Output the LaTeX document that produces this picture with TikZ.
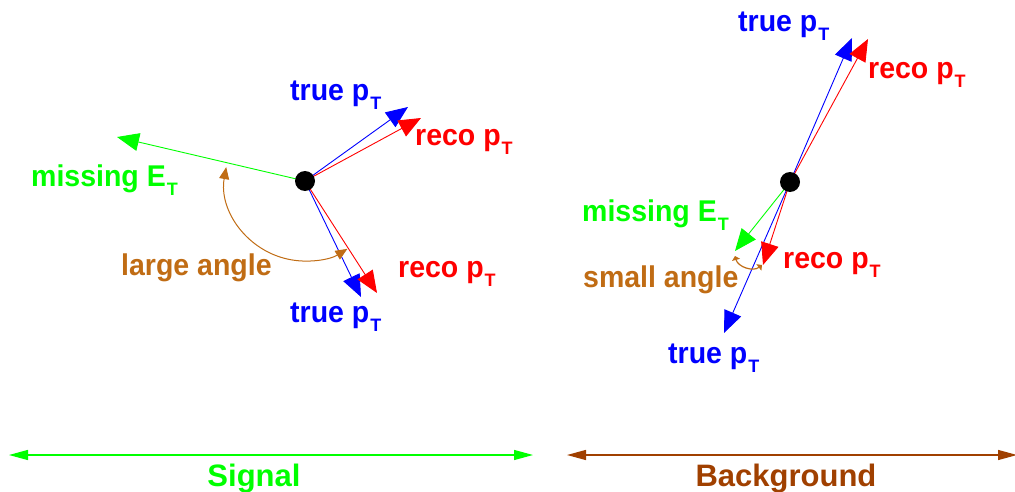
\documentclass[tikz,border=0pt]{standalone}
\usepackage{fontspec}
\setmainfont{Liberation Sans}
\newfontface\labfont[FakeStretch=0.95]{Liberation Sans Bold}
\newfontface\subfnt{Liberation Sans Bold}
\newfontface\bigfnt{Liberation Sans Bold}
\usetikzlibrary{arrows.meta}
\definecolor{pgreen}{RGB}{0,255,0}
\definecolor{pblue}{RGB}{0,0,255}
\definecolor{pred}{RGB}{255,0,0}
\definecolor{angbrown}{RGB}{192,108,20}
\definecolor{bgbrown}{RGB}{160,64,0}
\newcommand{\myPT}{p\raisebox{-9pt}{\subfnt\fontsize{18}{18}\selectfont\kern1pt T}}
\newcommand{\myET}{E\raisebox{-9pt}{\subfnt\fontsize{18}{18}\selectfont\kern1pt T}}
\tikzset{
  lab/.style={anchor=base west, inner sep=0pt, font=\labfont\fontsize{30}{30}\selectfont},
  vec/.style={line width=0.9pt, -{Triangle[length=22pt,width=18pt]}},
  angarc/.style={line width=1pt, draw=angbrown, {Triangle[length=12pt,width=10pt]}-{Triangle[length=12pt,width=10pt]}},
  smallarc/.style={line width=1.2pt, draw=angbrown, {Triangle[length=4pt,width=8pt]}-{Triangle[length=4pt,width=8pt]}},
  dotnode/.style={circle, fill=black, minimum size=20pt, inner sep=0pt},
  rangearrow/.style={line width=1.2pt, {Triangle[length=19pt,width=10pt]}-{Triangle[length=19pt,width=10pt]}},
  bigtxt/.style={anchor=base, inner sep=0pt, font=\bigfnt\fontsize{31}{31}\selectfont}
}
\begin{document}
\begin{tikzpicture}[x=1pt,y=-1pt]
\useasboundingbox (0,0) rectangle (1015,492);
% ---------- Signal ----------
\coordinate (s0) at (305,181);
\coordinate (sTu) at (408,107);
\coordinate (sRu) at (421,118);
\coordinate (sTd) at (361,297);
\coordinate (sRd) at (377,293);
\coordinate (sM) at (117,137);
\draw[vec, pgreen] (s0) -- (sM);
\draw[vec, pblue] (s0) -- (sTu);
\draw[vec, pred] (s0) -- (sRu);
\draw[vec, pblue] (s0) -- (sTd);
\draw[vec, pred] (s0) -- (sRd);
\node[dotnode] (sdot) at (s0) {};
\draw[angarc] ([shift={(190:80)}]s0) arc[start angle=190, end angle=58, radius=80];
\node[lab, pblue] (sTuL) at (290,101) {true \myPT};
\node[lab, pred] (sRuL) at (415,146) {reco \myPT};
\node[lab, pgreen] (sML) at (31,186) {missing \myET};
\node[lab, angbrown] (sAL) at (121,275) {large angle};
\node[lab, pred] (sRdL) at (398,277) {reco \myPT};
\node[lab, pblue] (sTdL) at (290,322) {true \myPT};
% ---------- Background ----------
\coordinate (b0) at (790,182);
\coordinate (bTu) at (852,38);
\coordinate (bRu) at (868,39);
\coordinate (bM) at (735,251);
\coordinate (bRd) at (763,265);
\coordinate (bTd) at (724,333);
\coordinate (bA1) at (735,256);
\coordinate (bA2) at (762,265);
\draw[vec, pblue] (b0) -- (bTu);
\draw[vec, pred] (b0) -- (bRu);
\draw[vec, pblue] (b0) -- (bTd);
\draw[vec, pred] (b0) -- (bRd);
\draw[vec, pgreen] (b0) -- (bM);
\node[dotnode] (bdot) at (b0) {};
\draw[smallarc] (bA1) .. controls (738,267) and (753,272) .. (bA2);
\node[lab, pblue] (bTuL) at (738,32) {true \myPT};
\node[lab, pred] (bRuL) at (868,79) {reco \myPT};
\node[lab, pgreen] (bML) at (582,222) {missing \myET};
\node[lab, pred] (bRdL) at (783,268) {reco \myPT};
\node[lab, angbrown] (bAL) at (583,287) {small angle};
\node[lab, pblue] (bTdL) at (668,363) {true \myPT};
% ---------- Ranges ----------
\coordinate (gL) at (9,455);
\coordinate (gR) at (533,455);
\coordinate (rL) at (567,455);
\coordinate (rR) at (1017,455);
\draw[rangearrow, pgreen] (gL) -- (gR);
\draw[rangearrow, bgbrown] (rL) -- (rR);
\node[bigtxt, pgreen] (sig) at (254,486) {Signal};
\node[bigtxt, bgbrown] (bkg) at (786,486) {Background};
\end{tikzpicture}
\end{document}
